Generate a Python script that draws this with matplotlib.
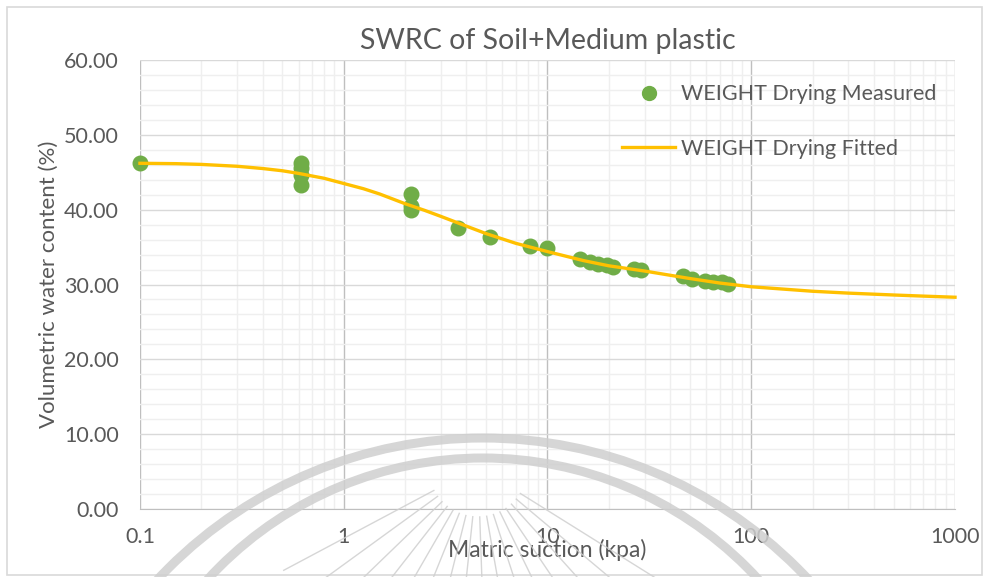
import numpy as np
import matplotlib
matplotlib.use('Agg')
import matplotlib.pyplot as plt
from matplotlib.patches import Arc, Rectangle
from matplotlib.lines import Line2D
from matplotlib.ticker import LogLocator, FixedLocator, NullFormatter, FuncFormatter

# measured points (suction kPa, volumetric water content %)
meas_x = [0.1, 0.62, 0.62, 0.62, 0.62, 2.15, 2.15, 2.15, 3.65, 5.2, 8.2, 9.9,
          14.4, 16.2, 17.7, 19.5, 20.9, 26.6, 28.8,
          46.4, 51.0, 59.3, 65.2, 71.5, 77.1]
meas_y = [46.2, 46.3, 45.6, 44.7, 43.3, 42.1, 40.5, 40.0, 37.6, 36.3, 35.1, 34.85,
          33.4, 33.0, 32.8, 32.6, 32.4, 32.1, 32.0,
          31.1, 30.8, 30.5, 30.4, 30.3, 30.1]

# fitted curve
fit_x = [0.1, 0.15, 0.2, 0.3, 0.4, 0.5, 0.6, 0.7, 0.8, 1.0, 1.25, 1.5, 2.0, 2.5,
         3.0, 4.0, 5.0, 7.0, 10, 15, 20, 30, 50, 70, 100, 200, 300, 500, 700, 1000]
fit_y = [46.2, 46.15, 46.05, 45.8, 45.5, 45.2, 44.85, 44.5, 44.2, 43.5, 42.8,
         42.1, 40.8, 39.9, 39.1, 37.8, 36.8, 35.5, 34.4, 33.2, 32.5, 31.8, 30.8,
         30.2, 29.7, 29.1, 28.85, 28.6, 28.45, 28.3]

x_ticks = [0.1, 1, 10, 100, 1000]
y_ticks = [0, 10, 20, 30, 40, 50, 60]

fig = plt.figure(figsize=(9.87, 5.77), dpi=100)
ax = fig.add_axes([0.1418, 0.1178, 0.8258, 0.7782])
txt = '#595959'
font = 'Lato'
fs = 15.5

ax.set_xscale('log')
ax.set_xlim(0.1, 1000)
ax.set_ylim(0, 60)

# grid
ax.xaxis.set_major_locator(FixedLocator(x_ticks))
ax.xaxis.set_minor_locator(LogLocator(base=10, subs=np.arange(2, 10)))
ax.xaxis.set_minor_formatter(NullFormatter())
ax.xaxis.set_major_formatter(FuncFormatter(lambda v, p: '%g' % v))
ax.yaxis.set_major_locator(FixedLocator(y_ticks))
ax.yaxis.set_minor_locator(FixedLocator(np.arange(0, 61, 2)))
ax.yaxis.set_major_formatter(FuncFormatter(lambda v, p: '%.2f' % v))
ax.grid(True, which='minor', color='#efefef', lw=1.0)
ax.grid(True, which='major', axis='y', color='#d9d9d9', lw=1.0)
ax.grid(True, which='major', axis='x', color='#bfbfbf', lw=1.0)
ax.set_axisbelow(True)
for s in ['top', 'right', 'left']:
    ax.spines[s].set_visible(False)
ax.spines['bottom'].set_color('#bfbfbf')
ax.tick_params(which='both', length=0)
ax.tick_params(axis='x', pad=13)
ax.tick_params(axis='y', pad=15)
for lab in ax.get_xticklabels() + ax.get_yticklabels():
    lab.set_fontsize(fs)
    lab.set_color(txt)
    lab.set_family(font)

ax.scatter(meas_x, meas_y, s=110, color='#70ad47', zorder=3, clip_on=False,
           label='WEIGHT Drying Measured')
ax.plot(fit_x, fit_y, color='#ffc000', lw=2.4, zorder=4, clip_on=False,
        label='WEIGHT Drying Fitted')

ax.set_title('SWRC of Soil+Medium plastic', fontsize=20.5, color=txt,
             family=font, pad=8)
ax.set_xlabel('Matric suction (kpa)', fontsize=16.5, color=txt, family=font,
              labelpad=-6)
ax.set_ylabel('Volumetric water content (%)', fontsize=16, color=txt,
              family=font, labelpad=4)

handles = [Line2D([], [], ls='none', marker='o', ms=10, color='#70ad47'),
           Line2D([], [], color='#ffc000', lw=2.4)]
ax.legend(handles, ['WEIGHT Drying Measured', 'WEIGHT Drying Fitted'],
          loc='upper left', bbox_to_anchor=(0.591, 0.946), frameon=False,
          prop={'family': font, 'size': fs}, labelcolor=txt,
          borderpad=0, borderaxespad=0,
          labelspacing=1.6, handlelength=2.5, handletextpad=0.25)

# chart border
fig.patches.append(Rectangle((0.007, 0.003), 0.988, 0.985,
                             transform=fig.transFigure, fill=False,
                             ec='#d9d9d9', lw=1.2))

# background watermark (arcs and rays)
W, H = 987, 577
wm = '#cfcfcf'
for r, top in [(445, 438), (373, 458)]:
    fig.patches.append(Arc((483 / W, 1 - (top + r) / H), 2 * r / W, 2 * r / H,
                           theta1=0, theta2=180, transform=fig.transFigure,
                           color=wm, lw=6.5, alpha=0.85, zorder=10))
cx, cy0 = 478, 467
for ang in np.arange(-62, 63, 8):
    a = np.radians(ang)
    r0, r1 = 50, 220
    xs = [cx + r0 * np.sin(a), cx + r1 * np.sin(a)]
    ys = [cy0 + r0 * np.cos(a), cy0 + r1 * np.cos(a)]
    fig.lines.append(Line2D([v / W for v in xs], [1 - v / H for v in ys],
                            transform=fig.transFigure, color=wm, lw=1.0,
                            alpha=0.85, zorder=10))

fig.savefig('out.png', dpi=100)
